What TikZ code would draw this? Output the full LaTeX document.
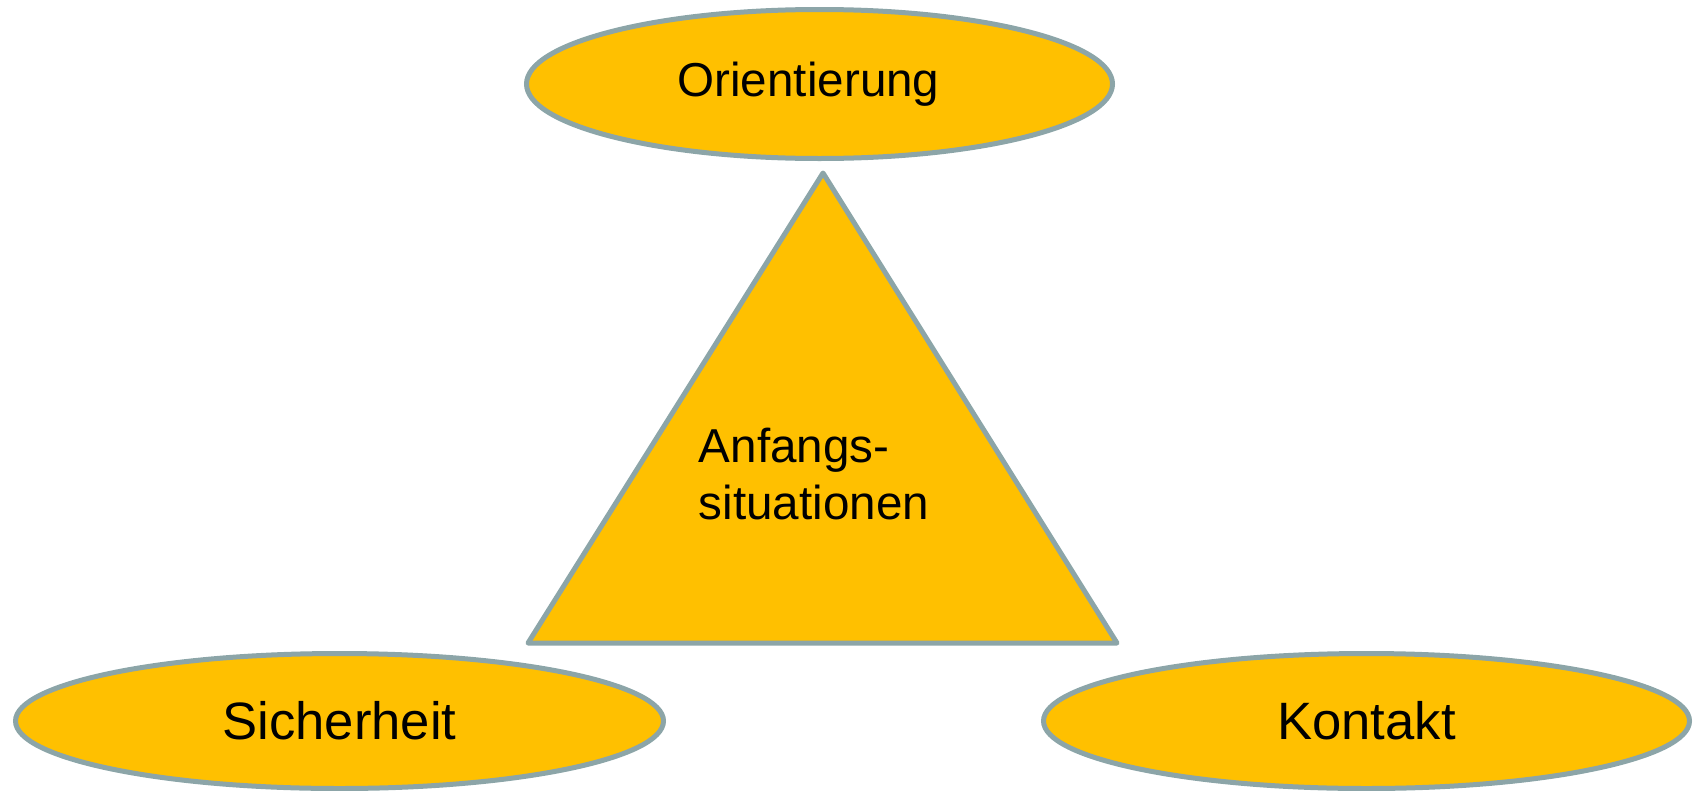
\documentclass[tikz,border=0pt]{standalone}
\usepackage{fontspec}
\setmainfont{Liberation Sans}
\usetikzlibrary{shapes.geometric,positioning}
\definecolor{fillorange}{RGB}{255,192,0}
\definecolor{rimgray}{RGB}{140,165,168}

\begin{document}
\begin{tikzpicture}[x=1pt,y=-1pt,
    topic/.style={ellipse,draw=rimgray,fill=fillorange,line width=5pt,inner sep=0pt,
      font=\fontsize{52.6}{60}\selectfont}]
    \useasboundingbox (0,0) rectangle (1694,790);
    \node[topic,minimum width=586,minimum height=149,font=\fontsize{47.6}{56}\selectfont] (O) at (819.5,84) {Orientierung\kern22pt};
    \node[topic,minimum width=648,minimum height=135] (S) at (339.5,721) {Sicherheit};
    \node[topic,minimum width=646,minimum height=135] (K) at (1366.5,721) {Kontakt};

    \coordinate (apex) at (823,173);
    \coordinate (bl) at (528,643);
    \coordinate (br) at (1117,643);
    \draw[draw=rimgray,fill=fillorange,line width=5pt,line join=round] (apex) -- (br) -- (bl) -- cycle;
    \node[align=left,inner sep=0pt,font=\fontsize{47.6}{57.5}\selectfont] (A) at (814,474) {Anfangs-\\situationen};
\end{tikzpicture}
\end{document}
